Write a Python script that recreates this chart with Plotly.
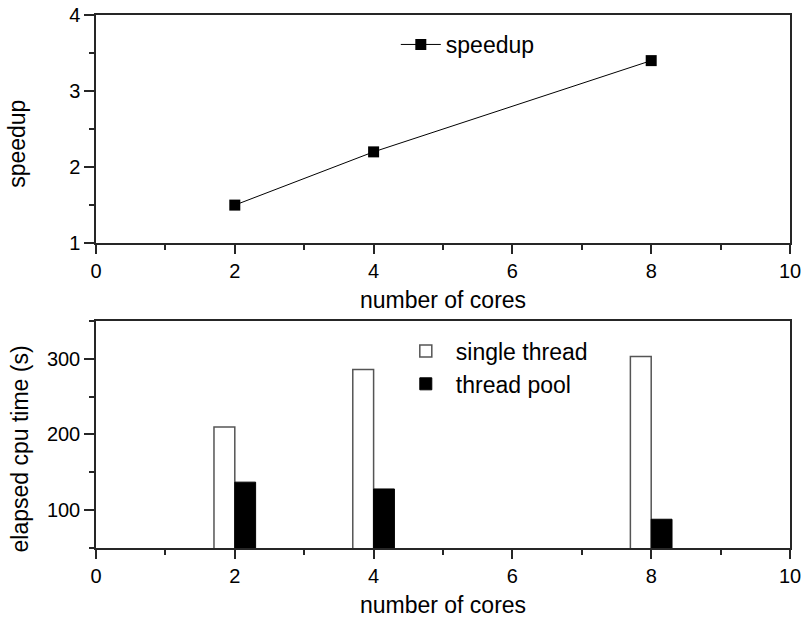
import plotly.graph_objects as go

cores = [2, 4, 8]
speedup = [1.5, 2.2, 3.4]
single_thread = [210, 286, 303]
thread_pool = [137, 128, 88]

FONT = "Liberation Sans, Arial, sans-serif"
AX = "#262626"
TICKFONT = dict(family=FONT, size=20, color="black")
TITLEFONT = dict(family=FONT, size=23, color="black")

fig = go.Figure()

fig.add_trace(go.Scatter(
    x=cores, y=speedup, mode="lines+markers", name="speedup",
    line=dict(color="black", width=1),
    marker=dict(symbol="square", size=11, color="black"),
    xaxis="x", yaxis="y", legend="legend", showlegend=True,
))

fig.add_trace(go.Bar(
    x=cores, y=single_thread, name="single thread",
    width=0.3, offset=-0.3,
    marker=dict(color="white", line=dict(color="#555555", width=1.5)),
    xaxis="x2", yaxis="y2", legend="legend2", showlegend=True,
))
fig.add_trace(go.Bar(
    x=cores, y=thread_pool, name="thread pool",
    width=0.3, offset=0,
    marker=dict(color="black", line=dict(color="black", width=1)),
    xaxis="x2", yaxis="y2", legend="legend2", showlegend=True,
))

common_x = dict(
    range=[0, 10], dtick=2, tick0=0, ticks="outside", ticklen=9, tickwidth=1.5,
    tickcolor=AX, showline=True, linecolor=AX, linewidth=1.5, mirror=True,
    showgrid=False, zeroline=False, automargin=False, ticklabeloverflow="allow",
    tickfont=TICKFONT,
    minor=dict(ticks="outside", ticklen=5, dtick=1, tickcolor=AX, tickwidth=1.5),
    title=dict(text="number of cores", font=TITLEFONT, standoff=11),
)
common_y = dict(
    ticks="outside", ticklen=10, tickwidth=1.5, tickcolor=AX,
    showline=True, linecolor=AX, linewidth=1.5, mirror=True,
    showgrid=False, zeroline=False, automargin=False, ticklabeloverflow="allow",
    tickfont=TICKFONT,
)
inner = dict(ticks="inside", ticklen=6, tickwidth=1.5, tickcolor=AX, showticklabels=False,
             showgrid=False, zeroline=False, showline=False, automargin=False)

fig.update_layout(
    width=803, height=624,
    margin=dict(l=96, r=13, t=15, b=76),
    plot_bgcolor="white", paper_bgcolor="white",
    barmode="overlay",
    font=dict(family=FONT, color="black"),
    xaxis=dict(common_x, anchor="y", domain=[0, 1]),
    yaxis=dict(common_y, domain=[0.572, 1], range=[1, 4], dtick=1, tick0=0,
               minor=dict(ticks="outside", ticklen=5, dtick=0.5, tick0=0, tickcolor=AX, tickwidth=1.5)),
    xaxis2=dict(common_x, anchor="y2", domain=[0, 1]),
    yaxis2=dict(common_y, domain=[0, 0.426], range=[50, 350], dtick=100, tick0=0,
                minor=dict(ticks="outside", ticklen=5, dtick=50, tick0=0, tickcolor=AX, tickwidth=1.5)),
    # mirrored inner ticks (top / right)
    xaxis3=dict(inner, overlaying="x", anchor="y", side="top", range=[0, 10], tickvals=[5]),
    yaxis3=dict(inner, overlaying="y", anchor="x", side="right", range=[1, 4], tickvals=[2.5]),
    xaxis4=dict(inner, overlaying="x2", anchor="y2", side="top", range=[0, 10], tickvals=[5]),
    yaxis4=dict(inner, overlaying="y2", anchor="x2", side="right", range=[50, 350], tickvals=[200]),
    legend=dict(x=0.432, y=0.985, xanchor="left", yanchor="top", bgcolor="rgba(0,0,0,0)",
                font=dict(family=FONT, size=23, color="black"), itemwidth=40),
    legend2=dict(x=0.432, y=0.41, xanchor="left", yanchor="top", bgcolor="rgba(0,0,0,0)",
                 font=dict(family=FONT, size=23, color="black"), itemwidth=50, tracegroupgap=0),
    annotations=[
        dict(text="speedup", xref="paper", yref="paper", x=-0.114, y=0.758,
             xanchor="center", yanchor="middle", textangle=-90, showarrow=False, font=TITLEFONT),
        dict(text="elapsed cpu time (s)", xref="paper", yref="paper", x=-0.110, y=0.186,
             xanchor="center", yanchor="middle", textangle=-90, showarrow=False, font=TITLEFONT),
    ],
)

fig.write_html("out.html", config={"displayModeBar": False},
               post_script="document.body.style.margin='0';")
